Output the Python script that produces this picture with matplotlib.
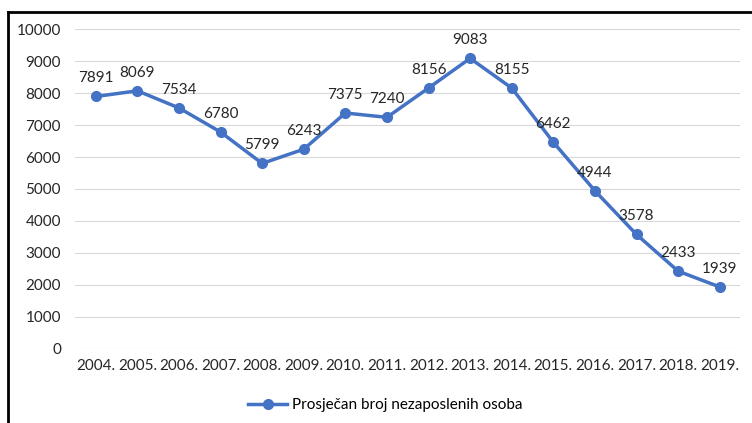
import matplotlib

matplotlib.use("Agg")
import matplotlib.pyplot as plt
from matplotlib.lines import Line2D

years = ["2004.", "2005.", "2006.", "2007.", "2008.", "2009.", "2010.", "2011.",
         "2012.", "2013.", "2014.", "2015.", "2016.", "2017.", "2018.", "2019."]
unemployed = [7891, 8069, 7534, 6780, 5799, 6243, 7375, 7240,
              8156, 9083, 8155, 6462, 4944, 3578, 2433, 1939]
series_name = "Prosječan broj nezaposlenih osoba"
yticks = list(range(0, 10001, 1000))

BLUE = "#4472C4"
TXT = "#262626"
plt.rcParams["font.family"] = ["Lato", "DejaVu Sans"]

fig = plt.figure(figsize=(7.52, 4.23), dpi=100)
ax = fig.add_axes([0.0997, 0.175, 0.885, 0.7564])

x = list(range(len(years)))
ax.plot(x, unemployed, color=BLUE, linewidth=2.5, marker="o", markersize=7,
        label=series_name, zorder=3)
for xi, v in zip(x, unemployed):
    ax.annotate(f"{v}", (xi, v), xytext=(0, 8), textcoords="offset points",
                ha="center", va="bottom", fontsize=11, color=TXT)

ax.set_xlim(-0.5, len(years) - 0.5)
ax.set_ylim(0, 10000)
ax.set_yticks(yticks)
ax.set_yticklabels([str(t) for t in yticks], fontsize=11, color=TXT)
ax.set_xticks(x)
ax.set_xticklabels(years, fontsize=11, color=TXT)
ax.tick_params(axis="both", length=0)
ax.tick_params(axis="y", pad=10)
ax.tick_params(axis="x", pad=7)
for s in ax.spines.values():
    s.set_visible(False)
ax.grid(axis="y", color="#D9D9D9", linewidth=0.8)
ax.set_axisbelow(True)

ax.legend(loc="center", bbox_to_anchor=(0.466, -0.175), frameon=False,
          fontsize=11, handlelength=2.6, handletextpad=0.3)

# outer frame (left and top edges visible)
fig.add_artist(Line2D([0.0105, 0.0105], [0.0, 0.972], color="black", linewidth=2,
                      transform=fig.transFigure))
fig.add_artist(Line2D([0.0105, 1.0], [0.972, 0.972], color="black", linewidth=2,
                      transform=fig.transFigure))

fig.savefig("out.png", dpi=100)
